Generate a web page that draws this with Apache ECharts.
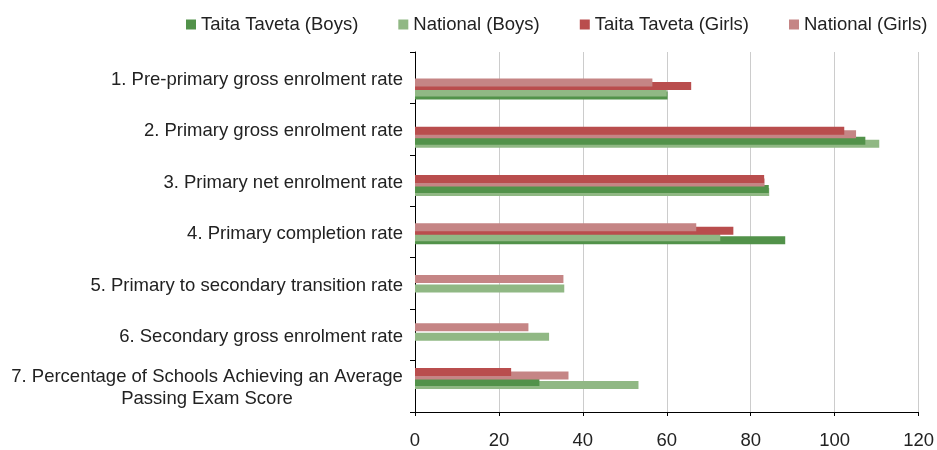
<!DOCTYPE html>
<html>
<head>
<meta charset="utf-8">
<script src="https://cdn.jsdelivr.net/npm/echarts@6/dist/echarts.min.js"></script>
<style>
  html, body { margin: 0; padding: 0; background: #fff; }
  #chart { width: 937px; height: 450px; }
</style>
</head>
<body>
<div id="chart"></div>
<script>
// indicators, top to bottom
const categories = [
  '1. Pre-primary gross enrolment rate',
  '2. Primary gross enrolment rate',
  '3. Primary net enrolment rate',
  '4. Primary completion rate',
  '5. Primary to secondary transition rate',
  '6. Secondary gross enrolment rate',
  '7. Percentage of Schools Achieving an Average\nPassing Exam Score'
]
// values per series (null = no bar)
const ttBoys = [59.9, 106.8, 83.9, 87.8, null, null, 29.5]
const natBoys = [59.7, 110.1, 84.0, 72.4, 35.4, 31.8, 53.0]
const ttGirls = [65.5, 101.8, 82.8, 75.5, null, null, 22.8]
const natGirls = [56.3, 104.6, 82.9, 66.7, 35.2, 26.9, 36.4]
const xTicks = [0, 20, 40, 60, 80, 100, 120]

const colors = {
  ttBoys: '#52924a',
  natBoys: '#90b884',
  ttGirls: '#b94d4d',
  natGirls: '#c58585'
}

const FONT = 'Liberation Sans'
const FS = 18.5

const chart = echarts.init(document.getElementById('chart'))

// bar slots inside a group: the shorter bar of each pair sits higher and in front
const slots = {
  girls: { short: -10.5, long: -7, zShort: 4, zLong: 3 },
  boys: { short: -0.5, long: 2.5, zShort: 2, zLong: 1 }
}
const BAR_H = 8

function barSeries (name, values, others, group, color) {
  return {
    name: name,
    type: 'custom',
    xAxisIndex: 1,
    yAxisIndex: 1,
    itemStyle: { color: color },
    encode: { x: 0, y: 1 },
    data: values.map((v, i) => (v == null ? null : [v, i])).filter((d) => d),
    renderItem: function (params, api) {
      const v = api.value(0)
      const i = api.value(1)
      const other = others[i]
      const isShort = other != null && v < other
      const s = slots[group]
      const start = api.coord([0, i])
      const end = api.coord([v, i])
      return {
        type: 'rect',
        shape: {
          x: start[0],
          y: start[1] + (isShort ? s.short : s.long),
          width: end[0] - start[0],
          height: BAR_H
        },
        style: { fill: color },
        z2: isShort ? s.zShort : s.zLong
      }
    }
  }
}

const options = {
  animation: false,
  legend: {
    data: ['Taita Taveta (Boys)', 'National (Boys)', 'Taita Taveta (Girls)', 'National (Girls)'],
    left: 186,
    top: 15,
    padding: 0,
    icon: 'rect',
    itemWidth: 10,
    itemHeight: 10,
    itemGap: 40,
    textStyle: { fontFamily: FONT, fontSize: FS, color: '#222' }
  },
  grid: [
    // visible axes
    { left: 415, right: 16, top: 52, bottom: 36 },
    // bars sit on a slightly tighter band than the tick marks
    { left: 415, right: 16, top: 65, bottom: 47.5 }
  ],
  xAxis: [
    {
      gridIndex: 0,
      type: 'value',
      min: xTicks[0],
      max: xTicks[xTicks.length - 1],
      interval: 20,
      axisLine: { show: true, lineStyle: { color: '#000', width: 1 } },
      axisTick: { show: true, length: 4, lineStyle: { color: '#000' } },
      splitLine: { show: true, lineStyle: { color: '#cccccc', width: 1 } },
      axisLabel: { margin: 19, fontFamily: FONT, fontSize: FS, color: '#222' }
    },
    { gridIndex: 1, type: 'value', min: 0, max: 120, show: false }
  ],
  yAxis: [
    {
      gridIndex: 0,
      type: 'category',
      inverse: true,
      data: categories,
      axisLine: { show: true, lineStyle: { color: '#000', width: 1 } },
      axisTick: { show: true, length: 5, lineStyle: { color: '#000' } },
      axisLabel: {
        margin: 12,
        padding: [4, 0, 0, 0],
        fontFamily: FONT,
        fontSize: FS,
        color: '#222',
        lineHeight: 22,
        formatter: function (value) {
          if (value.indexOf('\n') < 0) return value
          return value.split('\n').map((s) => '{c|' + s + '}').join('\n')
        },
        rich: {
          c: { width: 392, align: 'center', fontFamily: FONT, fontSize: FS, color: '#222', lineHeight: 22 }
        }
      }
    },
    { gridIndex: 1, type: 'category', inverse: true, data: categories, show: false }
  ],
  series: [
    barSeries('Taita Taveta (Boys)', ttBoys, natBoys, 'boys', colors.ttBoys),
    barSeries('National (Boys)', natBoys, ttBoys, 'boys', colors.natBoys),
    barSeries('Taita Taveta (Girls)', ttGirls, natGirls, 'girls', colors.ttGirls),
    barSeries('National (Girls)', natGirls, ttGirls, 'girls', colors.natGirls)
  ]
}

chart.setOption(options)
</script>
</body>
</html>
